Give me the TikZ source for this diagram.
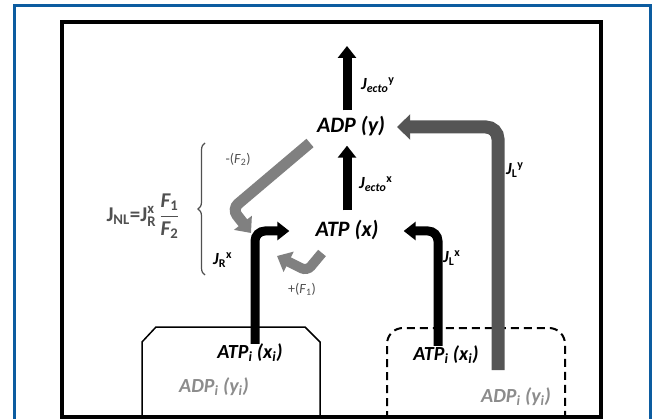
\documentclass[tikz,border=0pt]{standalone}
\usepackage{fontspec}
\setmainfont{Carlito}
\usepackage{amsmath}
\usetikzlibrary{arrows.meta,decorations.pathreplacing}
\definecolor{frameblue}{RGB}{12,92,160}
\definecolor{darkg}{RGB}{85,85,85}
\definecolor{midg}{RGB}{128,128,128}
\definecolor{txtg}{RGB}{140,140,140}
\definecolor{fmlg}{RGB}{80,80,80}
\begin{document}
\begin{tikzpicture}[x=1pt,y=-1pt,
  big/.style={font=\fontsize{22}{22}\selectfont\bfseries\itshape, inner sep=0pt, text height=16pt, text depth=5pt},
  mid/.style={font=\fontsize{20}{20}\selectfont\bfseries\itshape, inner sep=0pt},
  lab/.style={font=\fontsize{17}{17}\selectfont\bfseries\itshape, inner sep=0pt, anchor=west},
  small/.style={font=\fontsize{14}{14}\selectfont, inner sep=0pt, text=fmlg},
  blk/.style={line width=9pt, -{Triangle[width=18pt,length=12pt]}},
  gryL/.style={draw=darkg, line width=13pt, -{Triangle[width=25pt,length=13pt]}},
  gryF/.style={draw=midg, line width=11pt, -{Triangle[width=22pt,length=13pt]}}]
\useasboundingbox (0,0) rectangle (652,419);
\fill[white] (0,0) rectangle (652,419);
% frames
\draw[frameblue, line width=3pt] (14,421) -- (14,6) -- (650,6) -- (650,421);
\draw[line width=4pt] (62,417) rectangle (601,22);
% compartments
\draw[line width=1.5pt] (142,419) -- (142,342) -- (156,327) -- (305,327) -- (320,342) -- (320,419);
\draw[line width=2pt, dash pattern=on 8pt off 5pt, rounded corners=16pt] (387,419) -- (387,328) -- (565,328) -- (565,419);
% nodes
\node[big] (adp) at (351,127) {ADP (y)};
\node[big] (atp) at (347,231) {ATP (x)};
\node[mid] (atpL) at (250,353) {ATP\textsubscript{i} (x\textsubscript{i})};
\node[mid, text=txtg] (adpL) at (214,387) {ADP\textsubscript{i} (y\textsubscript{i})};
\node[mid] (atpR) at (446,355) {ATP\textsubscript{i} (x\textsubscript{i})};
\node[mid, text=txtg] (adpR) at (516,397) {ADP\textsubscript{i} (y\textsubscript{i})};
% coordinates
\coordinate (top) at (347,46);
\coordinate (jrx) at (255,0);
\coordinate (jlx) at (438,0);
\coordinate (jly0) at (498,370);
\coordinate (f2s) at (310,143);
\coordinate (f2b) at (232,209);
\coordinate (f2e) at (251,233);
\coordinate (f1s) at (322,253);
\coordinate (f1b) at (307,271);
\coordinate (f1e) at (277,256);
% black arrows
\draw[blk, shorten <=6pt] (adp.north -| top) -- (top);
\draw[blk, shorten <=10pt, shorten >=8pt] (atp.north) -- (atp.north |- adp.south);
\draw[blk, rounded corners=10pt, shorten >=26pt] (atpL.north -| jrx) -- (jrx |- atp.west) -- (atp.west);
\draw[blk, rounded corners=10pt, shorten >=25pt] (atpR.north -| jlx) -- (jlx |- atp.east) -- (atp.east);
% grey arrows
\draw[gryL, rounded corners=12pt, shorten >=12pt] (jly0) -- (jly0 |- adp.east) -- (adp.east);
\draw[gryF, rounded corners=8pt] (f2s) -- (f2b) -- (f2e);
\draw[gryF, line width=10pt, rounded corners=6pt] (f1s) -- (f1b) -- (f1e);
% labels
\node[lab] (ly) at (361,85) {J\textsubscript{ecto}\textsuperscript{\upshape y}};
\node[lab] (lx) at (359,184) {J\textsubscript{ecto}\textsuperscript{\upshape x}};
\node[lab] (lly) at (506,170) {J\textsubscript{\upshape L}\textsuperscript{\upshape y}};
\node[lab] (llx) at (443,258) {J\textsubscript{\upshape L}\textsuperscript{\upshape x}};
\node[lab] (lrx) at (213,260) {J\textsubscript{\upshape R}\textsuperscript{\upshape x}};
\node[small] (f2) at (238,159) {-(\textit{F}\textsubscript{2})};
\node[small] (f1) at (302,289) {+(\textit{F}\textsubscript{1})};
% brace and formula
\draw[fmlg, line width=1.2pt, decorate, decoration={brace, amplitude=7pt}] (205,275) -- (205,143);
\node[font=\fontsize{21}{21}\selectfont\bfseries, text=fmlg, inner sep=0pt] (jnl) at (143,216)
  {$\text{J}_{\text{NL}}\text{=}\text{J}^{\text{x}}_{\text{R}}\,\dfrac{\text{\itshape F}_{\text{1}}}{\text{\itshape F}_{\text{2}}}$};
\end{tikzpicture}
\end{document}
